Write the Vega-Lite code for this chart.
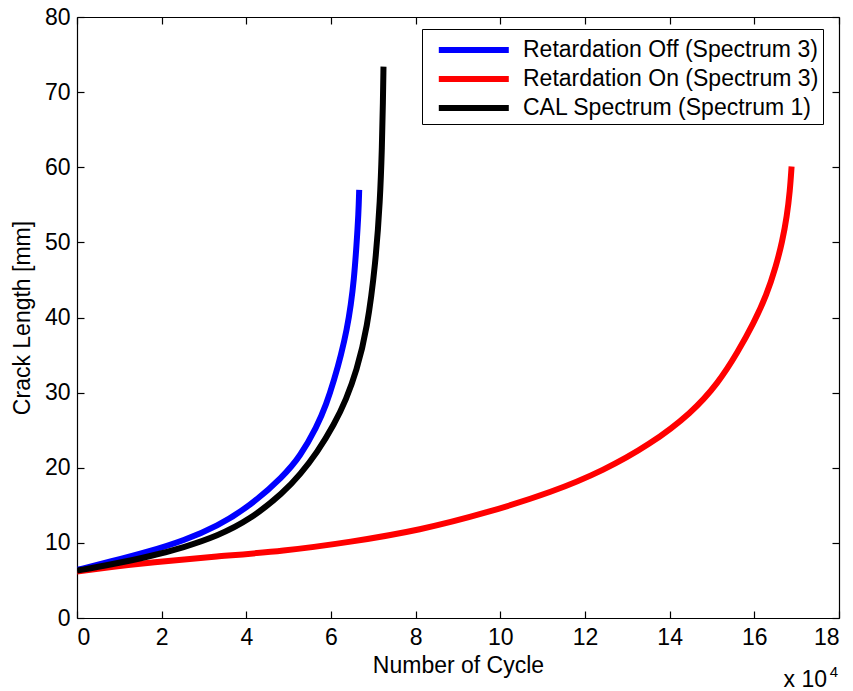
{
  "$schema": "https://vega.github.io/schema/vega-lite/v6.json",
  "width": 762,
  "height": 601,
  "autosize": {"type": "none"},
  "padding": {"left": 77, "top": 17, "right": 14, "bottom": 73},
  "background": "white",
  "config": {
    "font": "Liberation Sans",
    "view": {"stroke": null},
    "axis": {"grid": false, "domainColor": "black", "tickColor": "black", "labelColor": "black", "titleColor": "black", "labelFont": "Liberation Sans", "titleFont": "Liberation Sans", "labelFontSize": 23, "titleFontSize": 23, "titleFontWeight": "normal", "tickSize": -7, "domainWidth": 1.2, "tickWidth": 1.2}
  },
  "datasets": {
    "curves": [
      {"series": "Retardation Off (Spectrum 3)", "n": 0, "a": 6.4},
      {"series": "Retardation Off (Spectrum 3)", "n": 0.79, "a": 7.5},
      {"series": "Retardation Off (Spectrum 3)", "n": 1.73, "a": 8.9},
      {"series": "Retardation Off (Spectrum 3)", "n": 2.52, "a": 10.3},
      {"series": "Retardation Off (Spectrum 3)", "n": 3.31, "a": 12.2},
      {"series": "Retardation Off (Spectrum 3)", "n": 4.09, "a": 14.9},
      {"series": "Retardation Off (Spectrum 3)", "n": 4.88, "a": 18.9},
      {"series": "Retardation Off (Spectrum 3)", "n": 5.27, "a": 21.5},
      {"series": "Retardation Off (Spectrum 3)", "n": 5.67, "a": 25.5},
      {"series": "Retardation Off (Spectrum 3)", "n": 5.887, "a": 28.4},
      {"series": "Retardation Off (Spectrum 3)", "n": 6.076, "a": 31.7},
      {"series": "Retardation Off (Spectrum 3)", "n": 6.241, "a": 35.1},
      {"series": "Retardation Off (Spectrum 3)", "n": 6.375, "a": 38.4},
      {"series": "Retardation Off (Spectrum 3)", "n": 6.47, "a": 41.7},
      {"series": "Retardation Off (Spectrum 3)", "n": 6.541, "a": 45.0},
      {"series": "Retardation Off (Spectrum 3)", "n": 6.602, "a": 49.5},
      {"series": "Retardation Off (Spectrum 3)", "n": 6.65, "a": 53.9},
      {"series": "Retardation Off (Spectrum 3)", "n": 6.666, "a": 57.0},
      {"series": "Retardation On (Spectrum 3)", "n": 0, "a": 6.2},
      {"series": "Retardation On (Spectrum 3)", "n": 0.79, "a": 6.8},
      {"series": "Retardation On (Spectrum 3)", "n": 1.73, "a": 7.4},
      {"series": "Retardation On (Spectrum 3)", "n": 3.3, "a": 8.2},
      {"series": "Retardation On (Spectrum 3)", "n": 4.88, "a": 8.9},
      {"series": "Retardation On (Spectrum 3)", "n": 6.45, "a": 10.1},
      {"series": "Retardation On (Spectrum 3)", "n": 8.11, "a": 11.7},
      {"series": "Retardation On (Spectrum 3)", "n": 9.68, "a": 14.0},
      {"series": "Retardation On (Spectrum 3)", "n": 11.25, "a": 16.8},
      {"series": "Retardation On (Spectrum 3)", "n": 12.43, "a": 19.6},
      {"series": "Retardation On (Spectrum 3)", "n": 13.54, "a": 23.1},
      {"series": "Retardation On (Spectrum 3)", "n": 14.52, "a": 27.3},
      {"series": "Retardation On (Spectrum 3)", "n": 15.15, "a": 31.3},
      {"series": "Retardation On (Spectrum 3)", "n": 15.6, "a": 35.3},
      {"series": "Retardation On (Spectrum 3)", "n": 15.99, "a": 39.3},
      {"series": "Retardation On (Spectrum 3)", "n": 16.29, "a": 43.0},
      {"series": "Retardation On (Spectrum 3)", "n": 16.51, "a": 46.8},
      {"series": "Retardation On (Spectrum 3)", "n": 16.66, "a": 50.1},
      {"series": "Retardation On (Spectrum 3)", "n": 16.77, "a": 53.5},
      {"series": "Retardation On (Spectrum 3)", "n": 16.84, "a": 56.8},
      {"series": "Retardation On (Spectrum 3)", "n": 16.88, "a": 60.1},
      {"series": "CAL Spectrum (Spectrum 1)", "n": 0, "a": 6.3},
      {"series": "CAL Spectrum (Spectrum 1)", "n": 0.79, "a": 7.1},
      {"series": "CAL Spectrum (Spectrum 1)", "n": 1.73, "a": 8.2},
      {"series": "CAL Spectrum (Spectrum 1)", "n": 2.52, "a": 9.4},
      {"series": "CAL Spectrum (Spectrum 1)", "n": 3.31, "a": 10.9},
      {"series": "CAL Spectrum (Spectrum 1)", "n": 4.09, "a": 13.1},
      {"series": "CAL Spectrum (Spectrum 1)", "n": 4.88, "a": 16.7},
      {"series": "CAL Spectrum (Spectrum 1)", "n": 5.27, "a": 19.1},
      {"series": "CAL Spectrum (Spectrum 1)", "n": 5.67, "a": 22.0},
      {"series": "CAL Spectrum (Spectrum 1)", "n": 6.08, "a": 25.8},
      {"series": "CAL Spectrum (Spectrum 1)", "n": 6.36, "a": 29.1},
      {"series": "CAL Spectrum (Spectrum 1)", "n": 6.6, "a": 32.8},
      {"series": "CAL Spectrum (Spectrum 1)", "n": 6.853, "a": 38.4},
      {"series": "CAL Spectrum (Spectrum 1)", "n": 7.056, "a": 47.3},
      {"series": "CAL Spectrum (Spectrum 1)", "n": 7.16, "a": 55.7},
      {"series": "CAL Spectrum (Spectrum 1)", "n": 7.202, "a": 62.3},
      {"series": "CAL Spectrum (Spectrum 1)", "n": 7.228, "a": 69.0},
      {"series": "CAL Spectrum (Spectrum 1)", "n": 7.24, "a": 73.4}
    ]
  },
  "layer": [
    {
      "data": {"name": "curves"},
      "mark": {"type": "line", "strokeWidth": 6, "interpolate": "basis", "strokeCap": "butt", "clip": true},
      "encoding": {
        "x": {"field": "n", "type": "quantitative", "scale": {"domain": [0, 18], "nice": false, "zero": false},
              "axis": {"orient": "bottom", "title": "Number of Cycle", "values": [0, 2, 4, 6, 8, 10, 12, 14, 16, 18], "labelPadding": 15, "titlePadding": 5}},
        "y": {"field": "a", "type": "quantitative", "scale": {"domain": [0, 80], "nice": false},
              "axis": {"orient": "left", "title": "Crack Length [mm]", "values": [0, 10, 20, 30, 40, 50, 60, 70, 80], "labelPadding": 14, "titlePadding": 10}},
        "color": {"field": "series", "type": "nominal",
                  "scale": {"domain": ["Retardation Off (Spectrum 3)", "Retardation On (Spectrum 3)", "CAL Spectrum (Spectrum 1)"], "range": ["#0000FF", "#FF0000", "#000000"]},
                  "sort": null,
                  "legend": {"orient": "none", "legendX": 345, "legendY": 12, "title": null, "symbolType": "M-0.3,0H4.7", "symbolSize": 784, "symbolStrokeWidth": 6, "labelFontSize": 23, "labelFont": "Liberation Sans", "labelColor": "black", "labelLimit": 500, "labelOffset": 63, "strokeColor": "black", "fillColor": "white", "padding": 4, "rowPadding": 0}}
      }
    },
    {
      "data": {"values": [{"n": 18, "a": 0, "label": "x 10"}]},
      "mark": {"type": "text", "align": "right", "baseline": "alphabetic", "fontSize": 23, "font": "Liberation Sans", "color": "black", "dy": 69, "dx": -12},
      "encoding": {
        "x": {"field": "n", "type": "quantitative", "axis": null},
        "y": {"field": "a", "type": "quantitative", "axis": null},
        "text": {"field": "label"}
      }
    },
    {
      "data": {"values": [{"n": 18, "a": 0, "label": "4"}]},
      "mark": {"type": "text", "align": "right", "baseline": "alphabetic", "fontSize": 15, "font": "Liberation Sans", "color": "black", "dy": 59, "dx": -1},
      "encoding": {
        "x": {"field": "n", "type": "quantitative", "axis": null},
        "y": {"field": "a", "type": "quantitative", "axis": null},
        "text": {"field": "label"}
      }
    },
    {
      "data": {"name": "curves"},
      "mark": {"type": "line", "opacity": 0},
      "encoding": {
        "x": {"field": "n", "type": "quantitative", "axis": {"orient": "top", "title": null, "labels": false, "values": [0, 2, 4, 6, 8, 10, 12, 14, 16, 18]}},
        "y": {"field": "a", "type": "quantitative", "axis": {"orient": "right", "title": null, "labels": false, "values": [0, 10, 20, 30, 40, 50, 60, 70, 80]}}
      }
    }
  ],
  "resolve": {"axis": {"x": "independent", "y": "independent"}}
}
